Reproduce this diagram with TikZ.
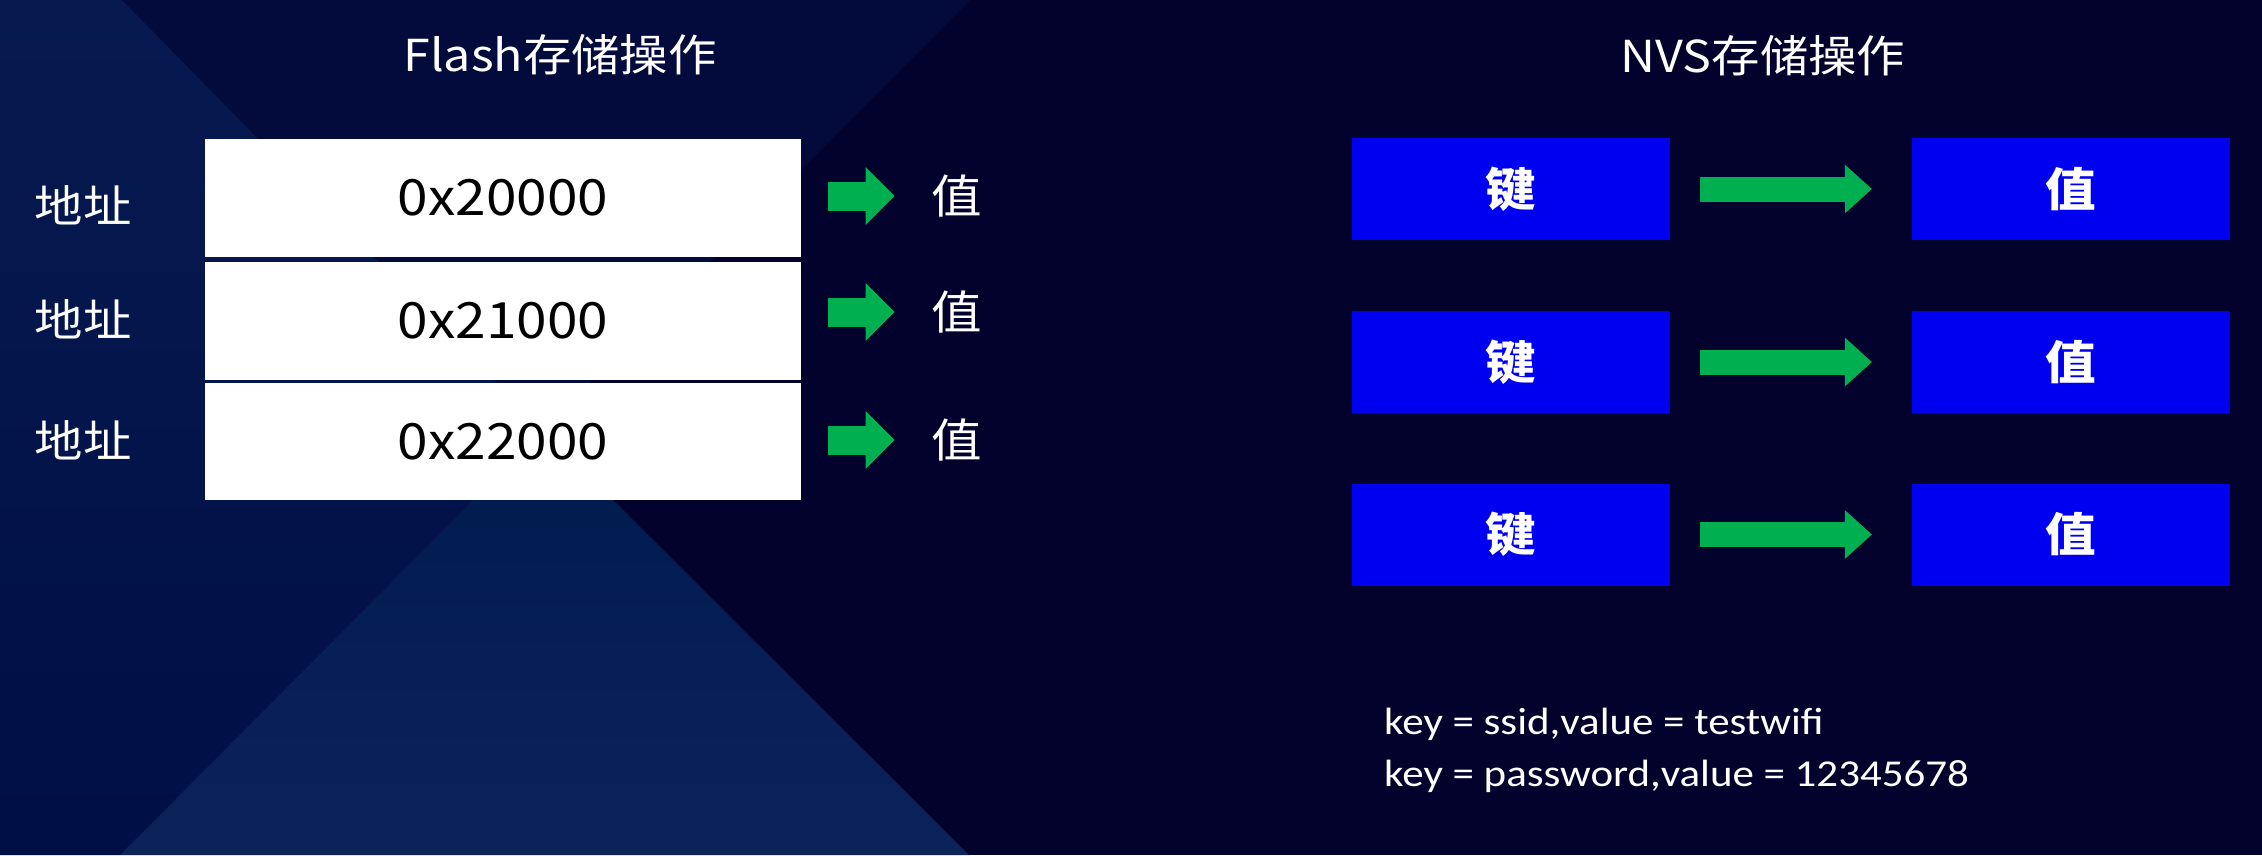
\documentclass[tikz,border=0pt]{standalone}
\usepackage{fontspec}
\newfontfamily\cjkfont[FakeStretch=1.1]{Noto Sans CJK SC}
\newfontfamily\calfont[FakeStretch=1.13]{Carlito}
\usetikzlibrary{arrows.meta,calc}
\definecolor{bgdark}{HTML}{02022D}
\definecolor{bgtop}{HTML}{020B3C}
\definecolor{bgleftA}{HTML}{071A50}
\definecolor{bgleftB}{HTML}{000F45}
\definecolor{bgtriA}{HTML}{001A4E}
\definecolor{bgtriB}{HTML}{0C2359}
\definecolor{keyblue}{HTML}{0000F0}
\definecolor{arrgreen}{HTML}{00B050}
\begin{document}
\begin{tikzpicture}[x=1pt,y=-1pt,
  titletext/.style={text=white,inner sep=0pt,font=\cjkfont\fontsize{44}{50}\selectfont},
  addrtext/.style={text=white,inner sep=0pt,font=\cjkfont\fontsize{44}{50}\selectfont},
  valtext/.style={text=white,inner sep=0pt,font=\cjkfont\fontsize{46}{50}\selectfont},
  membox/.style={fill=white,draw=none,minimum width=596pt,minimum height=118pt,inner sep=0pt,
    text=black,font=\cjkfont\fontsize{50}{56}\selectfont},
  kvbox/.style={fill=keyblue,draw=none,minimum width=318pt,minimum height=102pt,inner sep=0pt,
    text=white,font=\cjkfont\bfseries\fontsize{46}{50}\selectfont},
  infotext/.style={text=white,inner sep=0pt,anchor=base west,font=\calfont\fontsize{38}{42}\selectfont},
  leftarrow/.style={draw=arrgreen,line width=29pt,-{Triangle[length=29pt,width=58pt,line width=0pt]}},
  kvarrow/.style={draw=arrgreen,line width=25pt,-{Triangle[length=27pt,width=49pt,line width=0pt]}}
]
\useasboundingbox (0,0) rectangle (2262,855);
% background
\fill[bgdark] (0,0) rectangle (2262,855);
\fill[bgtop] (122,0) -- (970,0) -- (543,430) -- cycle;
\shade[top color=bgleftA,bottom color=bgleftB] (0,0) -- (122,0) -- (543,430) -- (120,855) -- (0,855) -- cycle;
\shade[top color=bgtriA,bottom color=bgtriB] (120,855) -- (543,430) -- (969,855) -- cycle;

% titles
\node[titletext] (t1) at (560,55) {Flash存储操作};
\node[titletext] (t2) at (1763,56) {NVS存储操作};

% flash side
\node[membox] (b1) at (503,198) {0x20000};
\node[membox] (b2) at (503,321) {0x21000};
\node[membox,minimum height=117pt] (b3) at (503,441.5) {0x22000};
\node[addrtext] (a1) at (83,205) {地址};
\node[addrtext] (a2) at (83,319) {地址};
\node[addrtext] (a3) at (83,440) {地址};
\node[valtext] (v1) at (957,196) {值};
\node[valtext] (v2) at (957,312) {值};
\node[valtext] (v3) at (957,440) {值};
\draw[leftarrow] ($(b1.east |- v1.center)+(27,0)$) -- ($(v1.west)+(-37,0)$);
\draw[leftarrow] ($(b2.east |- v2.center)+(27,0)$) -- ($(v2.west)+(-37,0)$);
\draw[leftarrow] ($(b3.east |- v3.center)+(27,0)$) -- ($(v3.west)+(-37,0)$);

% nvs side
\node[kvbox] (k1) at (1511,189) {键};
\node[kvbox] (k2) at (1511,362) {键};
\node[kvbox] (k3) at (1511,534.5) {键};
\node[kvbox] (w1) at (2071,189) {值};
\node[kvbox] (w2) at (2071,362) {值};
\node[kvbox] (w3) at (2071,534.5) {值};
\draw[kvarrow] ($(k1.east)+(30,0)$) -- ($(w1.west)+(-40,0)$);
\draw[kvarrow] ($(k2.east)+(30,0)$) -- ($(w2.west)+(-40,0)$);
\draw[kvarrow] ($(k3.east)+(30,0)$) -- ($(w3.west)+(-40,0)$);

\node[infotext] (i1) at (1384,734) {key = ssid,value = testwifi};
\node[infotext] (i2) at (1384,786) {key = password,value = 12345678};
\end{tikzpicture}
\end{document}
